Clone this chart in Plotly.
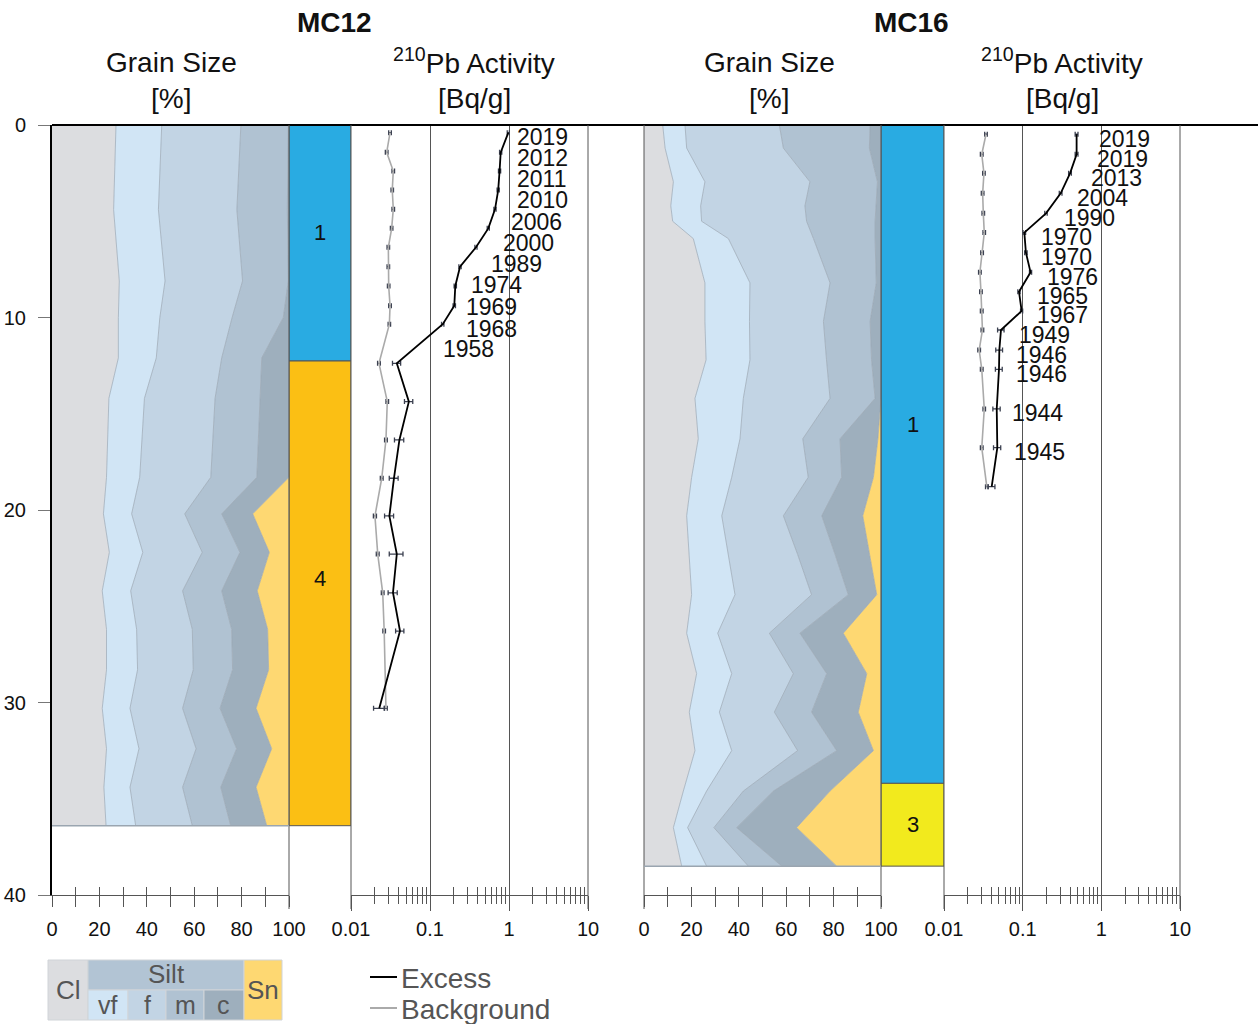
import math
import plotly.graph_objects as go

W, H = 1258, 1024
FONT = "Liberation Sans, Arial, sans-serif"

# ---------------- data ----------------
# MC12 grain size fractions (%) by depth (cm)
mc12_depth = [0, 4.4, 8.1, 10.0, 12.1, 14.2, 18.3, 20.2, 22.2, 24.2, 26.2, 28.3, 30.3, 32.4, 34.4, 36.4]
mc12_clay = [27.0, 26.0, 28.4, 28.0, 28.0, 24.0, 23.0, 21.7, 24.2, 21.2, 23.0, 23.0, 21.2, 23.0, 21.9, 22.8]
mc12_vf = [19.3, 18.9, 19.3, 17.5, 16.0, 15.0, 14.0, 11.9, 14.1, 12.0, 12.7, 13.1, 11.7, 13.7, 11.0, 12.5]
mc12_f = [33.4, 33.1, 32.7, 30.5, 27.6, 29.8, 30.0, 22.4, 25.1, 21.9, 23.5, 23.5, 22.2, 24.1, 22.2, 23.9]
mc12_m = [20.0, 21.3, 19.3, 21.6, 16.9, 19.0, 19.4, 15.6, 15.9, 16.5, 16.6, 16.6, 15.8, 17.1, 16.1, 16.2]
mc12_c = [0.3, 0.7, 0.3, 2.4, 11.5, 12.2, 13.6, 13.1, 12.4, 15.0, 15.2, 15.2, 15.2, 14.8, 14.9, 15.2]
mc12_sand = [0, 0, 0, 0, 0, 0, 0, 15.3, 8.3, 13.4, 9.0, 8.6, 13.9, 7.3, 13.9, 9.4]

# MC16 grain size fractions (%) by depth (cm)
mc16_depth = [0, 1.2, 2.95, 4.2, 5.0, 5.9, 8.2, 10.2, 12.2, 14.2, 16.3, 18.3, 20.3, 22.3, 24.4, 26.4, 28.5, 30.5, 32.5, 34.6, 36.5, 38.5]
mc16_clay = [7.9, 8.9, 12.4, 11.3, 12.1, 20.8, 25.7, 25.7, 26.2, 21.5, 22.9, 20.1, 18.0, 19.0, 20.1, 18.0, 22.2, 19.1, 21.5, 16.6, 12.4, 15.9]
mc16_vf = [9.4, 9.1, 13.3, 12.6, 12.2, 14.8, 19.0, 18.8, 18.5, 20.4, 17.6, 16.9, 14.8, 16.6, 18.3, 13.1, 14.8, 12.7, 15.5, 9.8, 6.0, 10.5]
mc16_f = [39.8, 40.8, 44.3, 44.0, 44.3, 35.9, 33.8, 31.2, 32.3, 36.6, 26.5, 32.3, 26.0, 29.2, 32.3, 21.8, 26.0, 23.2, 27.8, 15.5, 11.1, 17.6]
mc16_m = [38.3, 36.3, 28.5, 30.1, 28.9, 26.0, 19.5, 19.7, 19.0, 19.0, 15.7, 14.1, 16.2, 15.8, 15.5, 12.9, 14.1, 15.7, 16.5, 12.7, 9.6, 14.1]
mc16_c = [4.6, 4.9, 1.5, 2.0, 2.5, 2.5, 2.0, 4.6, 4.0, 2.5, 16.0, 13.4, 17.3, 14.7, 12.0, 18.3, 16.9, 19.7, 15.5, 23.9, 25.3, 23.2]
mc16_sand = [0, 0, 0, 0, 0, 0, 0, 0, 0, 0, 1.3, 3.2, 7.7, 4.7, 1.8, 15.9, 6.0, 9.6, 3.2, 21.5, 35.6, 18.7]

# Lithological units
mc12_units = ["1", "4"]
mc12_unit_top = [0, 12.26]
mc12_unit_bot = [12.26, 36.4]
mc16_units = ["1", "3"]
mc16_unit_top = [0, 34.2]
mc16_unit_bot = [34.2, 38.5]

# 210Pb activity (Bq/g)
mc12_pb_depth = [0.4, 1.42, 2.39, 3.38, 4.38, 5.37, 6.35, 7.36, 8.36, 9.39, 10.35, 12.38, 14.37, 16.36, 18.35, 20.31, 22.29, 24.3, 26.29, 30.3]
mc12_excess = [0.98, 0.785, 0.76, 0.73, 0.665, 0.547, 0.382, 0.24, 0.209, 0.203, 0.145, 0.038, 0.054, 0.041, 0.035, 0.0306, 0.038, 0.034, 0.0417, 0.0228]
mc12_excess_err = [0.03, 0.025, 0.024, 0.023, 0.021, 0.017, 0.012, 0.008, 0.007, 0.007, 0.005, 0.0045, 0.0065, 0.0055, 0.0045, 0.004, 0.0075, 0.0045, 0.005, 0.0035]
mc12_background = [0.0312, 0.0283, 0.0343, 0.0333, 0.0343, 0.0327, 0.0297, 0.0297, 0.030, 0.0312, 0.0306, 0.0226, 0.0288, 0.0277, 0.0245, 0.0201, 0.0218, 0.0252, 0.0263, 0.0277]
mc12_background_err = [0.0012, 0.0011, 0.0013, 0.0012, 0.0013, 0.0012, 0.0011, 0.0011, 0.0011, 0.0012, 0.0011, 0.0009, 0.0011, 0.0011, 0.0010, 0.0009, 0.0009, 0.0010, 0.0010, 0.0011]
mc12_dates = ["2019", "2012", "2011", "2010", "2006", "2000", "1989", "1974", "1969", "1968", "1958"]

mc16_pb_depth = [0.48, 1.52, 2.51, 3.55, 4.59, 5.59, 6.63, 7.65, 8.66, 9.66, 10.65, 11.69, 12.69, 14.75, 16.76, 18.79]
mc16_excess = [0.485, 0.485, 0.40, 0.304, 0.198, 0.105, 0.110, 0.126, 0.0898, 0.097, 0.053, 0.0505, 0.050, 0.0468, 0.0476, 0.0404]
mc16_excess_err = [0.02, 0.02, 0.016, 0.012, 0.007, 0.004, 0.004, 0.004, 0.003, 0.003, 0.005, 0.005, 0.005, 0.005, 0.005, 0.004]
mc16_background = [0.0342, 0.0302, 0.0322, 0.031, 0.0316, 0.0325, 0.0305, 0.0286, 0.0295, 0.0302, 0.0308, 0.028, 0.0302, 0.0325, 0.0302, 0.035]
mc16_background_err = [0.0013, 0.0012, 0.0012, 0.0012, 0.0012, 0.0012, 0.0012, 0.0011, 0.0011, 0.0012, 0.0012, 0.0011, 0.0012, 0.0012, 0.0012, 0.0013]
mc16_dates = ["2019", "2019", "2013", "2004", "1990", "1970", "1970", "1976", "1965", "1967", "1949", "1946", "1946", "1944", "1945"]

grain_ticks = [0, 20, 40, 60, 80, 100]
grain_minor_out = [10, 30, 50, 70, 90]
grain_minor = [10, 20, 30, 40, 50, 60, 70, 80, 90]
pb_ticks = [0.01, 0.1, 1, 10]
pb_ticktext = ["0.01", "0.1", "1", "10"]
pb_minor = [0.02, 0.03, 0.04, 0.05, 0.06, 0.07, 0.08, 0.09,
            0.2, 0.3, 0.4, 0.5, 0.6, 0.7, 0.8, 0.9,
            2, 3, 4, 5, 6, 7, 8, 9]
depth_ticks = [0, 10, 20, 30, 40]

# ---------------- style ----------------
frac_names = ["Cl", "vf", "f", "m", "c", "Sn"]
frac_colors = ["#dcdde0", "#d1e5f5", "#c2d4e4", "#b0c2d2", "#9eafbd", "#fed872"]
BORDER = "#98a5b2"
EXC_COL = "#000000"
BKG_COL = "#aaaaaa"
ERR_COL = "#3b4050"
AX_COL = "#555555"
# horizontal nudges (px) of the date labels relative to their points
mc12_date_dx = [7, 14.5, 15.5, 17, 13.5, 13, 13.5, 8.5, 9, 10, -1.5]
mc16_date_dx = [20.5, 18.5, 18.5, 14, 15.5, 15, 13.5, 14.5, 16.5, 13.5, 16.5, 15, 15, 13.5, 15]


def px_x(p):
    return p / W


def px_y(p):
    return 1 - p / H


fig = go.Figure()

# grain size stacks
for core, xa, depth, fracs in [
    ("mc12", "x", mc12_depth, [mc12_clay, mc12_vf, mc12_f, mc12_m, mc12_c, mc12_sand]),
    ("mc16", "x4", mc16_depth, [mc16_clay, mc16_vf, mc16_f, mc16_m, mc16_c, mc16_sand]),
]:
    for name, vals, col in zip(frac_names, fracs, frac_colors):
        fig.add_trace(go.Scatter(
            x=vals, y=depth, xaxis=xa, yaxis="y", mode="lines",
            stackgroup=core, orientation="h", fillcolor=col,
            line=dict(color=BORDER, width=0.7), name=name,
            showlegend=False, hoverinfo="skip"))

# unit columns
unit_colors = {"1": "#29abe2", "4": "#fbbf14", "3": "#f2ea1d"}
for xa, units, tops, bots in [("x2", mc12_units, mc12_unit_top, mc12_unit_bot),
                              ("x5", mc16_units, mc16_unit_top, mc16_unit_bot)]:
    fig.add_trace(go.Bar(
        x=[0.5] * len(units), y=[b - t for t, b in zip(tops, bots)], base=tops,
        width=1, xaxis=xa, yaxis="y",
        marker=dict(color=[unit_colors[u] for u in units], line=dict(color=AX_COL, width=1)),
        showlegend=False, hoverinfo="skip"))

# 210Pb profiles
for xa, depth, exc, exc_err, bkg, bkg_err in [
    ("x3", mc12_pb_depth, mc12_excess, mc12_excess_err, mc12_background, mc12_background_err),
    ("x6", mc16_pb_depth, mc16_excess, mc16_excess_err, mc16_background, mc16_background_err),
]:
    fig.add_trace(go.Scatter(
        x=bkg, y=depth, xaxis=xa, yaxis="y", mode="lines", name="Background",
        line=dict(color=BKG_COL, width=1.6),
        error_x=dict(type="data", array=bkg_err, color=ERR_COL, thickness=1.3, width=2.5),
        showlegend=False, hoverinfo="skip"))
    fig.add_trace(go.Scatter(
        x=exc, y=depth, xaxis=xa, yaxis="y", mode="lines", name="Excess",
        line=dict(color=EXC_COL, width=1.8),
        error_x=dict(type="data", array=exc_err, color=ERR_COL, thickness=1.3, width=2.5),
        showlegend=False, hoverinfo="skip"))

# dummy traces for overlay tick axes
for xa in ["x7", "x8", "x9", "x10"]:
    fig.add_trace(go.Scatter(x=[], y=[], xaxis=xa, yaxis="y", showlegend=False))

# ---------------- axes ----------------
ydom = [px_y(895), px_y(125)]
tickfont = dict(family=FONT, size=20, color="#111")


def grain_axis(d0, d1):
    return dict(domain=[px_x(d0), px_x(d1)], range=[0, 100], tickvals=grain_ticks,
                ticks="outside", ticklen=11, tickcolor=AX_COL,
                tickwidth=1, showline=True, linecolor=AX_COL, linewidth=1,
                showgrid=False, zeroline=False, anchor="y", tickfont=tickfont,
                ticklabelstandoff=5, fixedrange=True, automargin=False,
                minor=dict(tickvals=grain_minor_out, ticks="outside", ticklen=11,
                           tickcolor=AX_COL, tickwidth=1, showgrid=False))


def pb_axis(d0, d1):
    return dict(domain=[px_x(d0), px_x(d1)], type="log", range=[-2, 1], tickvals=pb_ticks,
                ticktext=pb_ticktext, ticks="outside", ticklen=15, tickcolor=AX_COL,
                tickwidth=1, showline=True, linecolor=AX_COL, linewidth=1,
                showgrid=True, gridcolor=AX_COL, gridwidth=1, zeroline=False,
                anchor="y", tickfont=tickfont, ticklabelstandoff=1,
                minor=dict(tickvals=pb_minor, ticks="outside", ticklen=8,
                           tickcolor=AX_COL, tickwidth=1, showgrid=False),
                fixedrange=True, automargin=False)


def unit_axis(d0, d1):
    return dict(domain=[px_x(d0), px_x(d1)], range=[0, 1], showticklabels=False, ticks="",
                showline=False, showgrid=False, zeroline=False, anchor="y", fixedrange=True,
                automargin=False)


def inside_overlay(base, vals, log=False):
    d = dict(overlaying=base, anchor="y", tickvals=vals, ticks="inside", ticklen=8,
             tickcolor=AX_COL, tickwidth=1, showticklabels=False, showline=False,
             showgrid=False, zeroline=False, fixedrange=True, automargin=False)
    if log:
        d.update(type="log", range=[-2, 1])
    else:
        d.update(range=[0, 100])
    return d


fig.update_layout(
    width=W, height=H, autosize=False,
    margin=dict(l=0, r=0, t=0, b=0, pad=0, autoexpand=False),
    paper_bgcolor="white", plot_bgcolor="rgba(0,0,0,0)",
    barmode="overlay", showlegend=False,
    font=dict(family=FONT, color="#111"),
    yaxis=dict(domain=ydom, range=[40, 0], tickvals=depth_ticks, ticks="outside",
               ticklen=12, tickcolor="#777", tickwidth=1, showline=True,
               linecolor="black", linewidth=2, showgrid=False, zeroline=False,
               anchor="x", tickfont=tickfont, ticklabelstandoff=8, fixedrange=True,
               automargin=False),
    xaxis=grain_axis(52, 289),
    xaxis2=unit_axis(289, 351),
    xaxis3=pb_axis(351, 588),
    xaxis4=grain_axis(644, 881),
    xaxis5=unit_axis(881, 944),
    xaxis6=pb_axis(944, 1180),
    xaxis7=inside_overlay("x", grain_minor),
    xaxis8=inside_overlay("x3", pb_minor, log=True),
    xaxis9=inside_overlay("x4", grain_minor),
    xaxis10=inside_overlay("x6", pb_minor, log=True),
)

# ---------------- shapes ----------------
shapes = []
shapes.append(dict(type="line", xref="paper", yref="paper", x0=px_x(52), x1=1,
                   y0=px_y(125), y1=px_y(125), line=dict(color="black", width=2)))
for p in [289, 351, 588, 644, 881, 944, 1180]:
    shapes.append(dict(type="line", xref="paper", yref="paper", x0=px_x(p), x1=px_x(p),
                       y0=px_y(125), y1=px_y(909), line=dict(color=AX_COL, width=1)))
for xa, depth in [("x", mc12_depth), ("x4", mc16_depth)]:
    shapes.append(dict(type="line", xref=xa, yref="y", x0=0, x1=100,
                       y0=depth[-1], y1=depth[-1], line=dict(color="#9aa5b0", width=1.5)))

leg_cells = [
    (48, 88, 960, 1020, frac_colors[0]),
    (88, 244, 960, 990, "#b2c4d4"),
    (88, 128, 990, 1020, frac_colors[1]),
    (128, 166, 990, 1020, frac_colors[2]),
    (166, 204, 990, 1020, frac_colors[3]),
    (204, 244, 990, 1020, frac_colors[4]),
    (244, 282, 960, 1020, frac_colors[5]),
]
for x0, x1, y0, y1, col in leg_cells:
    shapes.append(dict(type="rect", xref="paper", yref="paper", x0=px_x(x0), x1=px_x(x1),
                       y0=px_y(y1), y1=px_y(y0), fillcolor=col,
                       line=dict(color="#d0d4d8", width=1)))
for py, col in [(977, EXC_COL), (1008, BKG_COL)]:
    shapes.append(dict(type="line", xref="paper", yref="paper", x0=px_x(370), x1=px_x(397),
                       y0=px_y(py), y1=px_y(py), line=dict(color=col, width=2)))
fig.update_layout(shapes=shapes)

# ---------------- annotations ----------------
ann = []


def txt(x, y, s, size, bold=False, color="#111", xanchor="center"):
    ann.append(dict(xref="paper", yref="paper", x=px_x(x), y=px_y(y),
                    text=f"<b>{s}</b>" if bold else s, showarrow=False,
                    xanchor=xanchor, yanchor="middle",
                    font=dict(family=FONT, size=size, color=color)))


txt(334, 22, "MC12", 28, bold=True)
txt(911, 22, "MC16", 28, bold=True)
for cx in [171, 769]:
    txt(cx, 62, "Grain Size", 28)
    txt(cx, 98, "[%]", 28)
for cx in [474, 1062]:
    txt(cx, 61, "<sup>210</sup>Pb Activity", 28)
    txt(cx, 98, "[Bq/g]", 28)

LEG_TXT = "#555555"
txt(68, 990, "Cl", 26, color=LEG_TXT)
txt(166, 974, "Silt", 26, color=LEG_TXT)
txt(108, 1005, "vf", 25, color=LEG_TXT)
txt(147, 1005, "f", 25, color=LEG_TXT)
txt(185, 1005, "m", 25, color=LEG_TXT)
txt(224, 1005, "c", 25, color=LEG_TXT)
txt(263, 990, "Sn", 26, color=LEG_TXT)
txt(399, 978, "Excess", 28, color=LEG_TXT, xanchor="left")
txt(399, 1009, "Background", 28, color=LEG_TXT, xanchor="left")

for xa, units, tops, bots, shifts in [
    ("x2", mc12_units, mc12_unit_top, mc12_unit_bot, [11, 15]),
    ("x5", mc16_units, mc16_unit_top, mc16_unit_bot, [30, 0]),
]:
    for u, t, b, s in zip(units, tops, bots, shifts):
        ann.append(dict(xref=xa, yref="y", x=0.5, y=(t + b) / 2, text=u, showarrow=False,
                        yshift=s, font=dict(family=FONT, size=22, color="#111")))

for i, (lab, v, d, dx) in enumerate(zip(mc12_dates, mc12_excess, mc12_pb_depth, mc12_date_dx)):
    ann.append(dict(xref="x3", yref="y", x=math.log10(v), y=d, text=lab, showarrow=False,
                    xanchor="left", yanchor="middle", xshift=dx, yshift=-(4 + 2.1 * i),
                    font=dict(family=FONT, size=23, color="#111")))
for i, (lab, v, d, dx) in enumerate(zip(mc16_dates, mc16_excess, mc16_pb_depth, mc16_date_dx)):
    ann.append(dict(xref="x6", yref="y", x=math.log10(v), y=d, text=lab, showarrow=False,
                    xanchor="left", yanchor="middle", xshift=dx, yshift=-4.5,
                    font=dict(family=FONT, size=23, color="#111")))

fig.update_layout(annotations=ann)

fig.write_html("out.html", config={"responsive": False})
